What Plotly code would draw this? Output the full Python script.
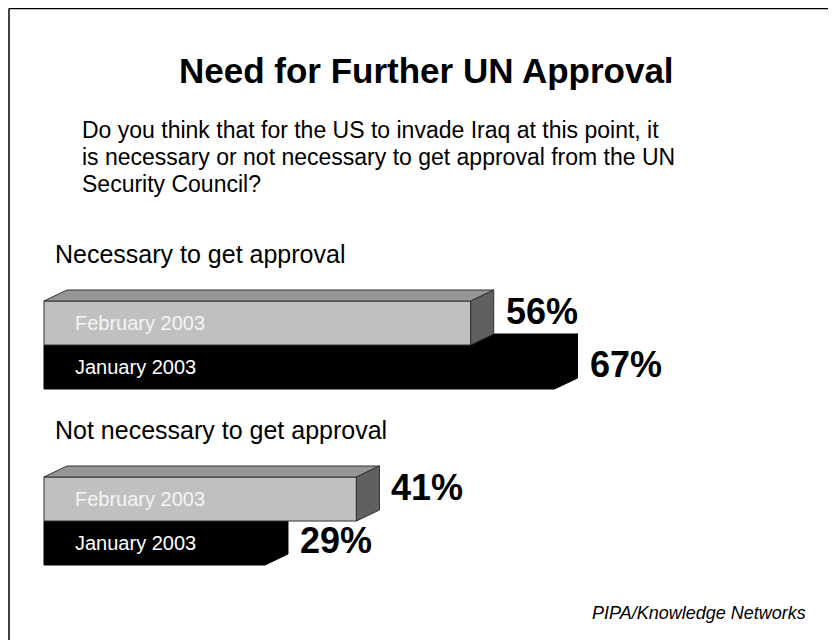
import plotly.graph_objects as go

# ---- data ----
categories = ["Necessary to get approval", "Not necessary to get approval"]
series_names = ["February 2003", "January 2003"]
feb_values = [56, 41]
jan_values = [67, 29]

title_text = "Need for Further UN Approval"
question_lines = [
    "Do you think that for the US to invade Iraq at this point, it",
    "is necessary or not necessary to get approval from the UN",
    "Security Council?",
]
source_text = "PIPA/Knowledge Networks"

# ---- layout constants (screen px; page body adds an 8px offset) ----
OFF = 8
W, H = 900, 720          # larger than the window so the figure edges fall off-screen
PX_PER_PCT = 7.62
X0_PX = 44 - OFF
ROW_PX = 44
ROW0_PX = 323 - OFF
GROUP_STEP = 4
DX = 23 / PX_PER_PCT     # depth, in % units
DY = 11 / ROW_PX         # depth, in row units
FONT = "Liberation Sans, Arial, Helvetica, sans-serif"


def px(x):
    return (x - OFF) / W


def py(y):
    return 1 - (y - OFF) / H


styles = {
    "February 2003": dict(front="#c0c0c0", top="#969696", side="#606060",
                          line="#303030", text="#f4f4f4", lab_dy=-12 / ROW_PX),
    "January 2003": dict(front="#000000", top="#000000", side="#000000",
                         line="#000000", text="#ffffff", lab_dy=-3 / ROW_PX),
}

fig = go.Figure()
annotations = []


def poly(xs, ys, fill, line):
    fig.add_trace(go.Scatter(
        x=xs + [xs[0]], y=ys + [ys[0]], mode="lines", fill="toself",
        fillcolor=fill, line=dict(color=line, width=1),
        hoverinfo="skip", showlegend=False))


for g, cat in enumerate(categories):
    vals = {"February 2003": feb_values[g], "January 2003": jan_values[g]}
    base_row = g * GROUP_STEP
    annotations.append(dict(
        x=9 / PX_PER_PCT, y=base_row - 1.57, xref="x", yref="y",
        text=cat, showarrow=False, xanchor="left", yanchor="middle",
        font=dict(family=FONT, size=25, color="#000000")))
    for s in [1, 0]:
        name = series_names[s]
        v = vals[name]
        st = styles[name]
        r = base_row + s
        t, b = r - 0.5, r + 0.5
        poly([0, v, v, 0], [t, t, b, b], st["front"], st["line"])
        poly([0, DX, v + DX, v], [t, t - DY, t - DY, t], st["top"], st["line"])
        poly([v, v + DX, v + DX, v], [t, t - DY, b - DY, b], st["side"], st["line"])
        annotations.append(dict(
            x=29 / PX_PER_PCT, y=r, xref="x", yref="y", text=name,
            showarrow=False, xanchor="left", yanchor="middle",
            font=dict(family=FONT, size=20, color=st["text"])))
    for s in [0, 1]:
        name = series_names[s]
        v = vals[name]
        r = base_row + s
        annotations.append(dict(
            x=v + DX + 10 / PX_PER_PCT, y=r + styles[name]["lab_dy"],
            xref="x", yref="y", text=f"<b>{v}%</b>", showarrow=False,
            xanchor="left", yanchor="middle",
            font=dict(family=FONT, size=36, color="#000000")))

annotations.append(dict(
    x=px(426), y=py(70), xref="paper", yref="paper",
    text=f"<b>{title_text}</b>", showarrow=False, xanchor="center", yanchor="middle",
    font=dict(family=FONT, size=35, color="#000000")))
for i, line in enumerate(question_lines):
    annotations.append(dict(
        x=px(80), y=py(130 + 27 * i), xref="paper", yref="paper",
        text=line, showarrow=False, xanchor="left", yanchor="middle",
        font=dict(family=FONT, size=23, color="#000000")))
annotations.append(dict(
    x=px(808), y=py(613), xref="paper", yref="paper",
    text=f"<i>{source_text}</i>", showarrow=False, xanchor="right", yanchor="middle",
    font=dict(family=FONT, size=18, color="#000000")))

border = dict(color="#000000", width=1.5)
fig.update_layout(
    width=W, height=H,
    margin=dict(l=0, r=0, t=0, b=0, pad=0),
    paper_bgcolor="#ffffff", plot_bgcolor="#ffffff",
    xaxis=dict(range=[-X0_PX / PX_PER_PCT, (W - X0_PX) / PX_PER_PCT],
               visible=False, fixedrange=True),
    yaxis=dict(range=[(H - ROW0_PX) / ROW_PX, -ROW0_PX / ROW_PX],
               visible=False, fixedrange=True),
    annotations=annotations,
    shapes=[
        dict(type="line", xref="paper", yref="paper",
             x0=px(9), x1=px(9), y0=0, y1=py(8.5), line=border),
        dict(type="line", xref="paper", yref="paper",
             x0=px(9), x1=1, y0=py(8.5), y1=py(8.5), line=border),
    ],
    showlegend=False,
)

fig.write_html("out.html")
